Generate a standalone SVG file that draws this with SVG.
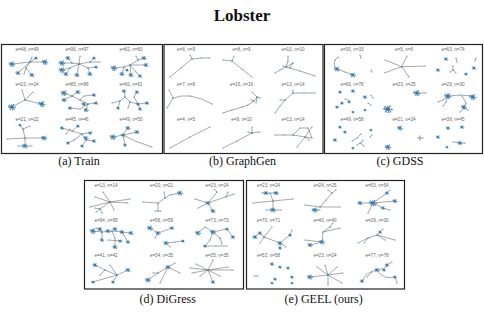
<svg xmlns="http://www.w3.org/2000/svg" xmlns:xlink="http://www.w3.org/1999/xlink" width="484" height="314" viewBox="0 0 484 314">
<style>
.e{fill:none;stroke:#505050;stroke-width:.5;marker-start:url(#d);marker-mid:url(#d);marker-end:url(#d)}
.fr{fill:#fff;stroke:#222;stroke-width:1.2}
.lb{font-family:"Liberation Sans",Arial,sans-serif;font-size:4.6px;fill:#666;text-anchor:middle}
.cap{font-family:"Liberation Serif","Times New Roman",serif;font-size:12px;fill:#111;text-anchor:middle}
.ttl{font-family:"Liberation Serif","Times New Roman",serif;font-size:17px;font-weight:bold;fill:#111;text-anchor:middle}
</style>
<defs>
<marker id="d" viewBox="-1 -1 2 2" markerWidth="1.2" markerHeight="1.2" markerUnits="userSpaceOnUse" overflow="visible"><circle r="1" fill="#3f8fcc"/></marker>
<g id="k"><circle r="1.5" fill="#3f8fcc" opacity=".8"/><path class="e" d="M0,0L2.8,.3M0,0L-1.8,.4M0,0L.3,2.3M0,0L-.2,-1.6M0,0L1.8,1.9M0,0L-2.2,-1.5M0,0L1.4,-2.1M0,0L-1.6,1.9M0,0L-2.9,-.2"/><circle r=".8" fill="#2a6aa0"/></g>
</defs>
<rect width="484" height="314" fill="#fff"/>
<text class="ttl" x="242" y="21">Lobster</text>

<g id="panel-a">
<rect class="fr" x="1.5" y="44.5" width="161" height="109"/>
<text class="lb" x="27" y="50.5">e=48, n=49</text><text class="lb" x="77" y="50.5">e=96, n=97</text><text class="lb" x="131" y="50.5">e=82, n=83</text>
<text class="lb" x="27" y="85.5">e=23, n=24</text><text class="lb" x="77" y="85.5">e=85, n=86</text><text class="lb" x="131" y="85.5">e=60, n=61</text>
<text class="lb" x="27" y="120.5">e=21, n=22</text><text class="lb" x="77" y="120.5">e=45, n=46</text><text class="lb" x="131" y="120.5">e=49, n=50</text>
<g id="a1"><path class="e" d="M12,64L30,62L45,62M30,62L32,57M30,62L18,73M30,62L26,68L32,75M30,62L36,58M26,68L24,74"/>
<use href="#k" transform="translate(12,64)"/><use href="#k" transform="translate(45,62)"/><use href="#k" transform="translate(18,73) scale(.8)"/><use href="#k" transform="translate(32,75) scale(.8)"/><use href="#k" transform="translate(36,58) scale(.6)"/></g>
<g id="a2"><path class="e" d="M80,56L79,64L77,75M62,63L72,63L79,64L90,62L100,62M62,70L70,68L79,64M79,64L88,68L96,67M70,68L66,74M88,68L90,74M72,63L68,58M90,62L94,58"/>
<use href="#k" transform="translate(62,63)"/><use href="#k" transform="translate(62,70)"/><use href="#k" transform="translate(66,74) scale(.8)"/><use href="#k" transform="translate(77,75) scale(.8)"/><use href="#k" transform="translate(90,74) scale(.8)"/><use href="#k" transform="translate(68,58) scale(.8)"/><use href="#k" transform="translate(94,58) scale(.6)"/><use href="#k" transform="translate(96,67) scale(.6)"/></g>
<g id="a3"><path class="e" d="M114,68L124,67L130,65L138,60L144,58M130,65L146,65M124,67L122,74M130,65L131,75M130,65L136,72L140,76M138,60L136,56"/>
<use href="#k" transform="translate(114,68)"/><use href="#k" transform="translate(144,58) scale(.8)"/><use href="#k" transform="translate(146,65) scale(.8)"/><use href="#k" transform="translate(122,74) scale(.8)"/><use href="#k" transform="translate(131,75) scale(.8)"/><use href="#k" transform="translate(140,76) scale(.7)"/><use href="#k" transform="translate(127,70) scale(.6)"/></g>
<g id="a4"><path class="e" d="M12,107L25,100L42,104M25,100L22,90M25,100L33,92"/>
<use href="#k" transform="translate(12,107) scale(1.2)"/><use href="#k" transform="translate(42,104) scale(1.1)"/></g>
<g id="a5"><path class="e" d="M64,93L72,96L78,92M72,96L80,100L88,104L96,103M80,100L84,96L94,95M88,104L86,110M72,96L64,100M88,104L80,109L70,108"/>
<use href="#k" transform="translate(64,93)"/><use href="#k" transform="translate(78,92) scale(.8)"/><use href="#k" transform="translate(64,100) scale(.8)"/><use href="#k" transform="translate(86,110) scale(.8)"/><use href="#k" transform="translate(96,103) scale(.7)"/><use href="#k" transform="translate(94,95) scale(.7)"/><use href="#k" transform="translate(70,108) scale(.7)"/><use href="#k" transform="translate(84,104) scale(.8)"/></g>
<g id="a6"><path class="e" d="M112,103L120,101L125,97L130,102L138,104L147,103M125,97L124,91M130,102L128,108M138,104L140,109M138,104L134,97L137,92M120,101L118,108"/>
<use href="#k" transform="translate(124,91) scale(.7)"/><use href="#k" transform="translate(137,92) scale(.7)"/><use href="#k" transform="translate(147,103) scale(.7)"/><use href="#k" transform="translate(140,109) scale(.6)"/><use href="#k" transform="translate(118,108) scale(.6)"/><use href="#k" transform="translate(138,104) scale(.6)"/></g>
<g id="a7"><path class="e" d="M7,139L25,138L46,138M20,125L23,129L25,138L25,145M23,129L30,126M18,146L32,146"/>
<use href="#k" transform="translate(44,138) scale(.9)"/><use href="#k" transform="translate(25,146) scale(.9)"/><use href="#k" transform="translate(20,125) scale(.5)"/></g>
<g id="a8"><path class="e" d="M62,128L72,131L82,134L92,132M70,129L66,134M82,134L86,140L94,141M82,134L74,140L68,143M86,140L82,146M72,131L78,126"/>
<use href="#k" transform="translate(62,128) scale(.7)"/><use href="#k" transform="translate(86,138) scale(.8)"/><use href="#k" transform="translate(94,141) scale(.7)"/><use href="#k" transform="translate(68,143) scale(.6)"/><use href="#k" transform="translate(82,146) scale(.6)"/><use href="#k" transform="translate(78,126) scale(.6)"/><use href="#k" transform="translate(90,133) scale(.6)"/></g>
<g id="a9"><path class="e" d="M113,137L123,135L128,128M123,135L137,132M123,135L125,145M123,135Q135,142 152,147"/>
<use href="#k" transform="translate(113,137)"/><use href="#k" transform="translate(128,128) scale(.8)"/><use href="#k" transform="translate(137,132) scale(.8)"/><use href="#k" transform="translate(125,145) scale(.6)"/><use href="#k" transform="translate(123,135) scale(.7)"/></g>
</g>
<text class="cap" x="79" y="165">(a) Train</text>

<g id="panel-b">
<rect class="fr" x="164" y="44.5" width="159" height="109"/>
<text class="lb" x="186" y="50.5">e=8, n=9</text><text class="lb" x="241.5" y="50.5">e=8, n=9</text><text class="lb" x="293" y="50.5">e=10, n=10</text>
<text class="lb" x="186" y="85.5">e=7, n=8</text><text class="lb" x="241.5" y="85.5">e=15, n=16</text><text class="lb" x="293" y="85.5">e=13, n=14</text>
<text class="lb" x="186" y="120.5">e=4, n=5</text><text class="lb" x="241.5" y="120.5">e=9, n=10</text><text class="lb" x="293" y="120.5">e=13, n=14</text>
<g id="b1"><path class="e" d="M170,77L181,68L192,59L190,55M192,59L201,58L210,58"/></g>
<g id="b2"><path class="e" d="M223,60L232,61L234,56M232,61L242,69L252,77"/></g>
<g id="b3"><path class="e" d="M275,73L280,70L286,67L288,61L288,56M286,67L293,63M283,66L290,68L300,71L315,76M290,68L293,63"/></g>
<g id="b4"><path class="e" d="M169,90L173,98L167,108M173,98Q181,95 190,96Q202,98 212,104"/></g>
<g id="b5"><path class="e" d="M223,113L232,110L242,107L248,105L254,101L257,97L252,92M257,97L260,98M257,97L256,103M254,101L251,100"/></g>
<g id="b6"><path class="e" d="M275,113L280,106L285,100L293,93L304,93L315,93M285,100L280,100M293,93L293,90"/></g>
<g id="b7"><path class="e" d="M170,148L190,137L210,127"/></g>
<g id="b8"><path class="e" d="M223,148L237,141L252,133L252,127M252,133L260,132M252,133L248,132"/></g>
<g id="b9"><path class="e" d="M275,135L284,135L293,135L300,128L308,128L312,138L293,135M312,127L305,137L297,147M305,137L309,140"/></g>
</g>
<text class="cap" x="242.5" y="165">(b) GraphGen</text>

<g id="panel-c">
<rect class="fr" x="324.5" y="44.5" width="158" height="109"/>
<text class="lb" x="352" y="50.5">e=30, n=33</text><text class="lb" x="404" y="50.5">e=5, n=6</text><text class="lb" x="453" y="50.5">e=63, n=74</text>
<text class="lb" x="352" y="85.5">e=66, n=78</text><text class="lb" x="404" y="85.5">e=23, n=25</text><text class="lb" x="453" y="85.5">e=29, n=30</text>
<text class="lb" x="352" y="120.5">e=49, n=58</text><text class="lb" x="404" y="120.5">e=21, n=24</text><text class="lb" x="453" y="120.5">e=39, n=45</text>
<g id="c1"><path class="e" d="M338,57L335,60Q333,67 337,69L345,72L353,75M360,55L361,58M371,70L372,72"/>
<use href="#k" transform="translate(337,69) scale(.9)"/><use href="#k" transform="translate(353,75) scale(.9)"/></g>
<g id="c2"><path class="e" d="M385,60L401.7,66.7L425,66M385,72.7L401.7,66.7L407,56M401.7,66.7L409,77"/></g>
<g id="c3"><path class="e" d="M453,66L453,70L450,72M453,70L456,73M456,58L457,62M476,58L475,61"/>
<use href="#k" transform="translate(446,59) scale(.7)"/><use href="#k" transform="translate(438,70) scale(.7)"/><use href="#k" transform="translate(466,74) scale(.6)"/><use href="#k" transform="translate(474,68) scale(.7)"/></g>
<g id="c4"><path class="e" d="M371,95L373,98M368,103L371,105M345,99L350,101"/>
<use href="#k" transform="translate(340,92) scale(.6)"/><use href="#k" transform="translate(353,91) scale(.7)"/><use href="#k" transform="translate(365,97) scale(.7)"/><use href="#k" transform="translate(342,103) scale(.6)"/><use href="#k" transform="translate(349,102) scale(.5)"/><use href="#k" transform="translate(337,107) scale(.6)"/><use href="#k" transform="translate(353,112) scale(.5)"/><use href="#k" transform="translate(365,110) scale(.5)"/></g>
<g id="c5"><path class="e" d="M417,93L426,93"/>
<use href="#k" transform="translate(417,93) scale(1.1)"/><use href="#k" transform="translate(388,109) scale(1.4)"/></g>
<g id="c6"><path class="e" d="M438,102L443,100L448,96L460,95L473,96M448,96L446,102L443,106M462,96L466,103L464,108L460,112M464,108L468,110"/>
<use href="#k" transform="translate(448,96) scale(1.1)"/><use href="#k" transform="translate(473,97) scale(1.1)"/><use href="#k" transform="translate(464,107) scale(.9)"/></g>
<g id="c7"><path class="e" d="M352,141L357,138L361,134M361,143L363,140M364,146L360,143L357,145M370,137L372,135"/>
<use href="#k" transform="translate(340,127) scale(.6)"/><use href="#k" transform="translate(345,132) scale(.6)"/><use href="#k" transform="translate(335,140) scale(.7)"/><use href="#k" transform="translate(371,130) scale(.5)"/><use href="#k" transform="translate(353,148) scale(.5)"/></g>
<g id="c8"><path class="e" d="M418,138L423,138M420,136L420,140"/>
<use href="#k" transform="translate(400,128) scale(.9)"/><use href="#k" transform="translate(388,147) scale(1)"/></g>
<g id="c9"><path class="e" d="M453,142L460,143L465,143"/>
<use href="#k" transform="translate(448,128) scale(.7)"/><use href="#k" transform="translate(462,127) scale(.7)"/><use href="#k" transform="translate(438,137) scale(.7)"/><use href="#k" transform="translate(460,143) scale(.8)"/><use href="#k" transform="translate(447,147) scale(.5)"/></g>
</g>
<text class="cap" x="400" y="165">(c) GDSS</text>

<g id="panel-d">
<rect class="fr" x="84.5" y="180.5" width="159" height="108.5"/>
<text class="lb" x="106" y="186.5">e=13, n=14</text><text class="lb" x="161.5" y="186.5">e=20, n=21</text><text class="lb" x="217" y="186.5">e=23, n=24</text>
<text class="lb" x="106" y="221.5">e=94, n=95</text><text class="lb" x="161.5" y="221.5">e=58, n=59</text><text class="lb" x="217" y="221.5">e=73, n=73</text>
<text class="lb" x="106" y="256.5">e=41, n=42</text><text class="lb" x="161.5" y="256.5">e=34, n=35</text><text class="lb" x="217" y="256.5">e=35, n=35</text>
<g id="d1"><path class="e" d="M103,192L110,202L95,197M110,202L90,207M110,202L130,199M110,202L128,203M110,202L100,209L96,212M100,209L102,213M110,202L114,210M100,209L95,208"/></g>
<g id="d2"><path class="e" d="M143,202L158,203L158,211M155,211L161,211M158,203L165,198L170,195L180,193M165,198L164,192"/>
<use href="#k" transform="translate(180,193) scale(.9)"/></g>
<g id="d3"><path class="e" d="M195,199L208,203L217,192M208,203L234,194M208,203L213,211M208,203L198,208M217,192L214,189M226,197L228,192"/>
<use href="#k" transform="translate(208,203) scale(.8)"/><use href="#k" transform="translate(213,211) scale(.8)"/></g>
<g id="d4"><path class="e" d="M93,231L102,232L112,231L122,232L131,233M102,232L102,240M112,231L115,238L115,247M122,232L128,242M108,240L122,241M96,228L102,232"/>
<use href="#k" transform="translate(93,231)"/><use href="#k" transform="translate(100,229) scale(.8)"/><use href="#k" transform="translate(108,231) scale(.8)"/><use href="#k" transform="translate(115,229) scale(.8)"/><use href="#k" transform="translate(122,232) scale(.8)"/><use href="#k" transform="translate(131,233) scale(.8)"/><use href="#k" transform="translate(102,240) scale(.7)"/><use href="#k" transform="translate(115,247) scale(.8)"/><use href="#k" transform="translate(128,242) scale(.7)"/><use href="#k" transform="translate(120,241) scale(.6)"/></g>
<g id="d5"><path class="e" d="M150,228L158,233L172,228M158,233L155,238M166,243L175,242L183,241M166,243L170,247"/>
<use href="#k" transform="translate(150,228) scale(.9)"/><use href="#k" transform="translate(158,233) scale(.8)"/><use href="#k" transform="translate(172,228) scale(.7)"/><use href="#k" transform="translate(166,243) scale(.8)"/><use href="#k" transform="translate(183,241) scale(.6)"/></g>
<g id="d6"><path class="e" d="M198,233L205,227L213,232L227,229L233,237M213,232L220,238M205,246L216,246L227,246M213,232L210,240L205,246M220,238L222,244"/>
<use href="#k" transform="translate(198,233) scale(.9)"/><use href="#k" transform="translate(213,232) scale(.9)"/><use href="#k" transform="translate(233,237) scale(.7)"/><use href="#k" transform="translate(205,246) scale(.6)"/><use href="#k" transform="translate(227,229) scale(.6)"/></g>
<g id="d7"><path class="e" d="M95,265L105,270L117,275L128,270M117,275L113,282M117,275L93,282M117,275L110,265M105,270L100,275"/>
<use href="#k" transform="translate(95,265) scale(.8)"/><use href="#k" transform="translate(128,270) scale(.8)"/><use href="#k" transform="translate(113,282) scale(.6)"/><use href="#k" transform="translate(93,282) scale(.6)"/></g>
<g id="d8"><path class="e" d="M148,280L158,273L168,267L180,273M168,267L160,283M168,267L175,263M158,273L153,273"/>
<use href="#k" transform="translate(168,267) scale(.8)"/><use href="#k" transform="translate(148,280) scale(.9)"/></g>
<g id="d9"><path class="e" d="M190,268L208,270L228,267M192,273L208,270L233,270M196,264L208,270L213,260M208,270L213,282M208,270L200,276M208,270L220,276"/>
<use href="#k" transform="translate(213,282) scale(.7)"/></g>
</g>
<text class="cap" x="167.7" y="303">(d) DiGress</text>

<g id="panel-e">
<rect class="fr" x="246.5" y="180.5" width="158" height="108.5"/>
<text class="lb" x="268.5" y="186.5">e=23, n=24</text><text class="lb" x="325" y="186.5">e=24, n=25</text><text class="lb" x="377" y="186.5">e=53, n=54</text>
<text class="lb" x="268.5" y="221.5">e=70, n=71</text><text class="lb" x="325" y="221.5">e=40, n=40</text><text class="lb" x="377" y="221.5">e=29, n=30</text>
<text class="lb" x="268.5" y="256.5">e=53, n=58</text><text class="lb" x="325" y="256.5">e=23, n=24</text><text class="lb" x="377" y="256.5">e=77, n=78</text>
<g id="e1"><path class="e" d="M253,203L273,201L293,199M270,193L273,201L273,210M262,193L278,193M266,210L281,210"/>
<use href="#k" transform="translate(266,193) scale(.8)"/><use href="#k" transform="translate(276,193) scale(.8)"/><use href="#k" transform="translate(273,210) scale(.9)"/></g>
<g id="e2"><path class="e" d="M305,205L320,207L340,207M320,207L326,200L332,193L336,190M332,193L328,190M312,210L320,210"/>
<use href="#k" transform="translate(315,210) scale(.9)"/></g>
<g id="e3"><path class="e" d="M360,203L373,203L395,201M373,203L387,193L390,190M373,203L383,208M373,203L368,213M383,208L390,210"/>
<use href="#k" transform="translate(373,203) scale(1.2)"/><use href="#k" transform="translate(360,203) scale(.8)"/><use href="#k" transform="translate(395,201) scale(.8)"/><use href="#k" transform="translate(387,193) scale(.7)"/><use href="#k" transform="translate(383,208) scale(.7)"/></g>
<g id="e4"><path class="e" d="M255,237L260,233L264,237L272,227M264,237L280,243L290,235L292,230M280,243L280,248M280,243L286,247M264,237L260,243"/>
<use href="#k" transform="translate(255,237) scale(.8)"/><use href="#k" transform="translate(260,233) scale(.7)"/><use href="#k" transform="translate(280,243) scale(.8)"/><use href="#k" transform="translate(280,248) scale(.6)"/><use href="#k" transform="translate(290,235) scale(.6)"/></g>
<g id="e5"><path class="e" d="M305,240L322,242L323,232L330,227M323,232L340,228M322,242L310,245M330,227L333,223"/>
<use href="#k" transform="translate(322,242) scale(.9)"/><use href="#k" transform="translate(310,245) scale(.8)"/></g>
<g id="e6"><path class="e" d="M358,243L368,238L377,235L395,240M377,235L380,232M377,235L385,240M368,238L364,243M380,232L383,229"/>
<use href="#k" transform="translate(380,232) scale(.6)"/></g>
<g id="e7"><path class="e" d="M254,276L258,276"/>
<use href="#k" transform="translate(272,264) scale(.7)"/><use href="#k" transform="translate(280,267) scale(.6)"/><use href="#k" transform="translate(288,268) scale(.6)"/><use href="#k" transform="translate(275,279) scale(.6)"/><use href="#k" transform="translate(292,277) scale(.6)"/><use href="#k" transform="translate(272,283) scale(.5)"/><use href="#k" transform="translate(292,283) scale(.5)"/></g>
<g id="e8"><path class="e" d="M310,277L328,275L317,267M328,275L337,267M328,275L343,273M328,275L342,283M328,275L328,285M328,275L325,265"/>
<use href="#k" transform="translate(310,277) scale(.9)"/></g>
<g id="e9"><path class="e" d="M362,282Q365,272 377,270Q388,268 387,265M377,270Q383,280 395,277M367,277L372,272M387,265L392,262M395,277L397,283"/>
<use href="#k" transform="translate(362,281) scale(.7)"/><use href="#k" transform="translate(377,270) scale(.8)"/><use href="#k" transform="translate(387,265) scale(.7)"/><use href="#k" transform="translate(395,277) scale(.6)"/><use href="#k" transform="translate(384,270) scale(.6)"/></g>
</g>
<text class="cap" x="323.7" y="303">(e) GEEL (ours)</text>
</svg>
